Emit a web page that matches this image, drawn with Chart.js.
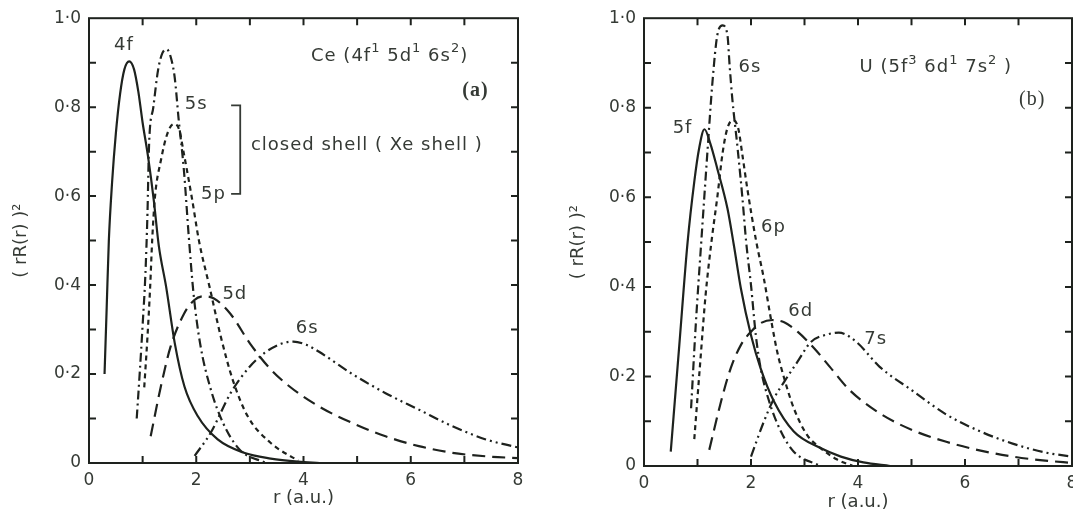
<!DOCTYPE html>
<html>
<head>
<meta charset="utf-8">
<script src="https://cdn.jsdelivr.net/npm/chart.js@4.4.0/dist/chart.umd.min.js"></script>
<style>
  html, body { margin: 0; padding: 0; background: #fff; overflow: hidden; }
  #wrap { position: relative; width: 1073px; height: 514px; overflow: hidden; }
  .panel { position: absolute; top: 0; height: 514px; }
  #panelA { left: 0; width: 540px; }
  #panelB { left: 540px; width: 560px; }
</style>
</head>
<body>
<div id="wrap">
  <div class="panel" id="panelA"><canvas id="ceChart" width="540" height="514"></canvas></div>
  <div class="panel" id="panelB"><canvas id="uChart" width="560" height="514"></canvas></div>
</div>
<script>
// radial densities (rR(r))^2 against r in atomic units

// Ce (4f1 5d1 6s2)
const ce4fR = [0.29, 0.33, 0.37, 0.43, 0.50, 0.58, 0.66, 0.75, 0.84, 0.92, 1.00, 1.10, 1.21, 1.30, 1.44, 1.60, 1.78, 2.03, 2.40, 2.89, 3.39, 3.90, 4.30];
const ce4fV = [0.20, 0.35, 0.50, 0.63, 0.74, 0.83, 0.885, 0.903, 0.885, 0.835, 0.765, 0.69, 0.589, 0.49, 0.395, 0.269, 0.172, 0.105, 0.053, 0.023, 0.010, 0.003, 0.0];

const ce5sR = [0.89, 0.95, 1.00, 1.05, 1.09, 1.12, 1.20, 1.29, 1.37, 1.45, 1.53, 1.60, 1.67, 1.77, 1.86, 1.95, 2.07, 2.26, 2.50, 2.81, 3.30];
const ce5sV = [0.10, 0.21, 0.31, 0.42, 0.56, 0.715, 0.80, 0.885, 0.922, 0.93, 0.91, 0.865, 0.775, 0.658, 0.51, 0.38, 0.27, 0.17, 0.09, 0.03, 0.0];

const ce5pR = [1.03, 1.09, 1.14, 1.18, 1.23, 1.34, 1.46, 1.58, 1.68, 1.77, 1.92, 2.05, 2.25, 2.46, 2.68, 2.96, 3.39, 3.90];
const ce5pV = [0.17, 0.283, 0.395, 0.505, 0.598, 0.68, 0.74, 0.762, 0.75, 0.695, 0.595, 0.50, 0.395, 0.283, 0.187, 0.105, 0.045, 0.005];

const ce5dR = [1.15, 1.34, 1.52, 1.77, 1.96, 2.14, 2.33, 2.64, 3.00, 3.37, 3.74, 4.29, 4.91, 5.53, 6.15, 6.77, 7.40, 8.00];
const ce5dV = [0.06, 0.172, 0.261, 0.335, 0.366, 0.375, 0.37, 0.335, 0.269, 0.213, 0.172, 0.127, 0.09, 0.06, 0.038, 0.023, 0.015, 0.011];

const ce6sR = [1.97, 2.27, 2.64, 3.00, 3.28, 3.58, 3.81, 4.05, 4.29, 4.91, 5.53, 6.15, 6.77, 7.40, 8.00];
const ce6sV = [0.016, 0.068, 0.157, 0.217, 0.248, 0.268, 0.273, 0.266, 0.25, 0.20, 0.157, 0.12, 0.083, 0.053, 0.035];

// U (5f3 6d1 7s2)
const u5fR = [0.50, 0.66, 0.815, 0.94, 1.03, 1.13, 1.24, 1.37, 1.56, 1.68, 1.81, 2.00, 2.18, 2.43, 2.80, 3.30, 3.68, 4.10, 4.60];
const u5fV = [0.032, 0.27, 0.50, 0.635, 0.709, 0.752, 0.72, 0.664, 0.575, 0.493, 0.397, 0.292, 0.218, 0.144, 0.077, 0.04, 0.021, 0.008, 0.0];

const u6sR = [0.88, 0.97, 1.07, 1.19, 1.28, 1.37, 1.47, 1.56, 1.60, 1.65, 1.75, 1.84, 1.91, 2.00, 2.09, 2.18, 2.34, 2.56, 2.80, 3.30];
const u6sV = [0.129, 0.32, 0.50, 0.709, 0.858, 0.962, 0.984, 0.962, 0.895, 0.821, 0.709, 0.598, 0.50, 0.404, 0.292, 0.219, 0.144, 0.077, 0.032, 0.0];

const u6pR = [0.94, 1.05, 1.15, 1.26, 1.37, 1.47, 1.56, 1.66, 1.76, 1.84, 1.93, 2.10, 2.24, 2.37, 2.49, 2.62, 2.80, 3.05, 3.30, 3.60, 3.90];
const u6pV = [0.06, 0.23, 0.38, 0.50, 0.60, 0.70, 0.755, 0.772, 0.755, 0.694, 0.62, 0.50, 0.419, 0.33, 0.255, 0.196, 0.129, 0.069, 0.04, 0.015, 0.0];

const u6dR = [1.22, 1.44, 1.62, 1.81, 2.00, 2.18, 2.40, 2.62, 2.87, 3.18, 3.47, 3.84, 4.40, 5.02, 5.65, 6.27, 6.89, 7.50, 8.00];
const u6dV = [0.036, 0.144, 0.218, 0.27, 0.30, 0.319, 0.326, 0.321, 0.30, 0.263, 0.222, 0.17, 0.118, 0.08, 0.054, 0.035, 0.021, 0.012, 0.007];

const u7sR = [2.00, 2.24, 2.43, 2.62, 2.87, 3.12, 3.43, 3.64, 3.97, 4.40, 5.02, 5.65, 6.27, 6.89, 7.51, 8.00];
const u7sV = [0.021, 0.099, 0.151, 0.188, 0.233, 0.277, 0.294, 0.298, 0.277, 0.222, 0.168, 0.115, 0.078, 0.05, 0.03, 0.021];

const xTicks = [0, 2, 4, 6, 8];
const yTicks = [0, 0.2, 0.4, 0.6, 0.8, 1.0];

const INK = '#1e221e';
const TEXT = '#353a35';
const FONT = '"DejaVu Sans", sans-serif';
const LABEL_FONT = '18px ' + FONT;
const SUP_FONT = '13px ' + FONT;

const dashes = {
  solid: [],
  dashDot: [9, 4, 2, 4],
  shortDash: [5, 4],
  longDash: [13, 7],
  dashDotDot: [10, 4, 2, 4, 2, 4]
};

function pts(rs, vs) {
  return rs.map((r, i) => ({ x: r, y: vs[i] }));
}

function curve(label, rs, vs, dash) {
  return {
    label: label,
    data: pts(rs, vs),
    borderColor: INK,
    borderWidth: 2.2,
    borderDash: dashes[dash],
    pointRadius: 0,
    fill: false,
    cubicInterpolationMode: 'monotone'
  };
}

// decimal point drawn as a raised dot
function yLabel(value) {
  const tenth = Math.round(value * 10);
  const hit = yTicks.some(t => Math.round(t * 10) === tenth);
  if (!hit) return '';
  if (tenth === 0) return '0';
  return (tenth / 10).toFixed(1).replace('.', '\u00b7');
}

function xLabel(value) {
  return xTicks.indexOf(value) >= 0 ? String(value) : '';
}

// box round the plot with inward tick marks on all four sides
const frameTicks = {
  id: 'frameTicks',
  afterDraw(chart) {
    const { ctx, chartArea: a, scales: { x, y } } = chart;
    const len = 7;
    ctx.save();
    ctx.strokeStyle = INK;
    ctx.lineWidth = 2;
    ctx.strokeRect(a.left, a.top, a.right - a.left, a.bottom - a.top);
    ctx.beginPath();
    x.ticks.forEach(t => {
      const px = x.getPixelForValue(t.value);
      if (px <= a.left + 1 || px >= a.right - 1) return;
      ctx.moveTo(px, a.bottom); ctx.lineTo(px, a.bottom - len);
      ctx.moveTo(px, a.top); ctx.lineTo(px, a.top + len);
    });
    y.ticks.forEach(t => {
      const py = y.getPixelForValue(t.value);
      if (py <= a.top + 1 || py >= a.bottom - 1) return;
      ctx.moveTo(a.left, py); ctx.lineTo(a.left + len, py);
      ctx.moveTo(a.right, py); ctx.lineTo(a.right - len, py);
    });
    ctx.stroke();
    ctx.restore();
  }
};

// a note is either plain text or a list of pieces; pieces in [] are superscripts
function drawPieces(ctx, pieces, x, y) {
  let cx = x;
  pieces.forEach(p => {
    const sup = Array.isArray(p);
    const s = sup ? p[0] : p;
    ctx.font = sup ? SUP_FONT : LABEL_FONT;
    ctx.fillText(s, cx, sup ? y - 7 : y);
    cx += ctx.measureText(s).width;
  });
}

// orbital names and headings placed in data units
function notesPlugin(notes, bracket) {
  return {
    id: 'notes',
    afterDatasetsDraw(chart) {
      const { ctx, scales: { x, y } } = chart;
      ctx.save();
      ctx.fillStyle = TEXT;
      ctx.textBaseline = 'middle';
      ctx.letterSpacing = '1px';
      notes.forEach(n => {
        const px = x.getPixelForValue(n.r);
        const py = y.getPixelForValue(n.v);
        if (n.pieces) {
          ctx.textAlign = 'left';
          drawPieces(ctx, n.pieces, px, py);
          return;
        }
        ctx.font = n.font || LABEL_FONT;
        ctx.textAlign = n.align || 'center';
        ctx.fillText(n.text, px, py);
      });
      if (bracket) {
        const x0 = x.getPixelForValue(bracket.r0);
        const x1 = x.getPixelForValue(bracket.r1);
        const yt = y.getPixelForValue(bracket.vTop);
        const yb = y.getPixelForValue(bracket.vBottom);
        ctx.strokeStyle = TEXT;
        ctx.lineWidth = 1.8;
        ctx.beginPath();
        ctx.moveTo(x0, yt); ctx.lineTo(x1, yt); ctx.lineTo(x1, yb); ctx.lineTo(x0, yb);
        ctx.stroke();
      }
      ctx.restore();
    }
  };
}

function makeChart(id, datasets, g, notes, bracket) {
  return new Chart(document.getElementById(id), {
    type: 'line',
    data: { datasets: datasets },
    options: {
      responsive: false,
      animation: false,
      layout: { padding: { top: g.top, right: g.right, left: 0, bottom: 0 } },
      plugins: {
        legend: { display: false },
        tooltip: { enabled: false }
      },
      scales: {
        x: {
          type: 'linear',
          min: 0,
          max: 8,
          grid: { display: false, drawTicks: false },
          border: { display: false },
          ticks: {
            stepSize: 1,
            autoSkip: false,
            maxRotation: 0,
            padding: 7,
            color: TEXT,
            font: { family: FONT, size: 17 },
            callback: xLabel
          },
          title: {
            display: true,
            text: 'r (a.u.)',
            color: TEXT,
            font: { family: FONT, size: 18 },
            padding: { top: 0, bottom: g.xTitlePad }
          },
          afterFit(scale) { scale.height = g.xHeight; }
        },
        y: {
          min: 0,
          max: 1,
          grid: { display: false, drawTicks: false },
          border: { display: false },
          ticks: {
            stepSize: 0.1,
            autoSkip: false,
            padding: 8,
            color: TEXT,
            font: { family: FONT, size: 17 },
            callback: yLabel
          },
          title: {
            display: true,
            text: '( rR(r) )\u00b2',
            color: TEXT,
            font: { family: FONT, size: 18 },
            padding: { top: g.yTitlePad, bottom: 0 }
          },
          afterFit(scale) { scale.width = g.yWidth; }
        }
      }
    },
    plugins: [frameTicks, notesPlugin(notes, bracket)]
  });
}

makeChart('ceChart', [
  curve('4f', ce4fR, ce4fV, 'solid'),
  curve('5s', ce5sR, ce5sV, 'dashDot'),
  curve('5p', ce5pR, ce5pV, 'shortDash'),
  curve('5d', ce5dR, ce5dV, 'longDash'),
  curve('6s', ce6sR, ce6sV, 'dashDotDot')
], { top: 15, right: 22, yWidth: 89, xHeight: 51, yTitlePad: 11, xTitlePad: 5 }, [
  { text: '4f', r: 0.65, v: 0.94 },
  { text: '5s', r: 2.00, v: 0.806 },
  { text: '5p', r: 2.32, v: 0.605 },
  { text: '5d', r: 2.72, v: 0.379 },
  { text: '6s', r: 4.07, v: 0.302 },
  { text: 'closed shell ( Xe shell )', r: 3.02, v: 0.714, align: 'left' },
  { pieces: ['Ce (4f', ['1'], ' 5d', ['1'], ' 6s', ['2'], ')'], r: 4.14, v: 0.915 },
  { text: '(a)', r: 6.96, v: 0.836, align: 'left', font: 'bold 20px "Liberation Serif", serif' }
], { r0: 2.65, r1: 2.82, vTop: 0.804, vBottom: 0.605 });

makeChart('uChart', [
  curve('5f', u5fR, u5fV, 'solid'),
  curve('6s', u6sR, u6sV, 'dashDot'),
  curve('6p', u6pR, u6pV, 'shortDash'),
  curve('6d', u6dR, u6dV, 'longDash'),
  curve('7s', u7sR, u7sV, 'dashDotDot')
], { top: 18, right: 28, yWidth: 104, xHeight: 48, yTitlePad: 28, xTitlePad: 1 }, [
  { text: '5f', r: 0.72, v: 0.754 },
  { text: '6s', r: 1.98, v: 0.891 },
  { text: '6p', r: 2.42, v: 0.534 },
  { text: '6d', r: 2.93, v: 0.346 },
  { text: '7s', r: 4.33, v: 0.283 },
  { pieces: ['U (5f', ['3'], ' 6d', ['1'], ' 7s', ['2'], ' )'], r: 4.03, v: 0.89 },
  { text: '(b)', r: 7.01, v: 0.817, align: 'left', font: '20px "Liberation Serif", serif' }
], null);
</script>
</body>
</html>
